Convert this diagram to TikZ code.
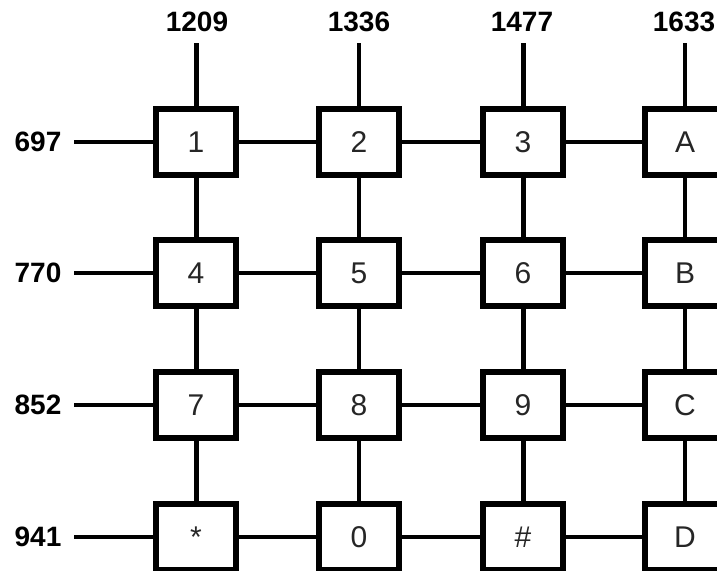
\documentclass[tikz,border=0pt]{standalone}
\usepackage{fontspec}
\setmainfont{Liberation Sans}
\begin{document}
\begin{tikzpicture}[x=1pt,y=-1pt,
  keybox/.style={draw=black, line width=5.5pt, fill=white, minimum width=80pt, minimum height=66pt, inner sep=0pt, text=black!85, font=\fontsize{30}{30}\selectfont},
  freq/.style={inner sep=0pt, font=\bfseries\fontsize{28}{28}\selectfont},
  thick line/.style={line width=5pt},
  thin line/.style={line width=3.5pt}]
\useasboundingbox (0,0) rectangle (717,570);
\fill[white] (0,0) rectangle (717,570);
% key positions
\foreach \r/\y in {1/142,2/273,3/405,4/537}{
  \foreach \c/\x in {1/196,2/359,3/523,4/685}{
    \coordinate (p\r\c) at (\x,\y);
  }
}
\node[keybox] (k11) at (p11) {1};
\node[keybox] (k12) at (p12) {2};
\node[keybox] (k13) at (p13) {3};
\node[keybox] (k14) at (p14) {A};
\node[keybox] (k21) at (p21) {4};
\node[keybox] (k22) at (p22) {5};
\node[keybox] (k23) at (p23) {6};
\node[keybox] (k24) at (p24) {B};
\node[keybox] (k31) at (p31) {7};
\node[keybox] (k32) at (p32) {8};
\node[keybox] (k33) at (p33) {9};
\node[keybox] (k34) at (p34) {C};
\node[keybox] (k41) at (p41) {*};
\node[keybox] (k42) at (p42) {0};
\node[keybox] (k43) at (p43) {\#};
\node[keybox] (k44) at (p44) {D};
% frequency labels
\node[freq] (c1) at (197,22) {1209};
\node[freq] (c2) at (359,22) {1336};
\node[freq] (c3) at (522,22) {1477};
\node[freq] (c4) at (684,22) {1633};
\node[freq] (r1) at (38,142) {697};
\node[freq] (r2) at (38,273) {770};
\node[freq] (r3) at (38,405) {852};
\node[freq] (r4) at (38,537) {941};
% line starts
\foreach \c/\x in {1/196,2/359,3/523,4/685}{\coordinate (t\c) at (\x,43);}
\foreach \r/\y in {1/142,2/273,3/405,4/537}{\coordinate (l\r) at (74,\y);}
% vertical connectors
\draw[thick line] (t1) -- (k11.north);
\draw[thin line] (t2) -- (k12.north);
\draw[thick line] (t3) -- (k13.north);
\draw[thin line] (t4) -- (k14.north);
\foreach \a/\b in {1/2,2/3,3/4}{
  \draw[thick line] (k\a1.south) -- (k\b1.north);
  \draw[thin line] (k\a2.south) -- (k\b2.north);
  \draw[thick line] (k\a3.south) -- (k\b3.north);
  \draw[thin line] (k\a4.south) -- (k\b4.north);
}
% horizontal connectors
\foreach \r in {1,2,3,4}{
  \draw[thin line] (l\r) -- (k\r1.west);
  \draw[thin line] (k\r1.east) -- (k\r2.west);
  \draw[thin line] (k\r2.east) -- (k\r3.west);
  \draw[thin line] (k\r3.east) -- (k\r4.west);
}
\end{tikzpicture}
\end{document}
